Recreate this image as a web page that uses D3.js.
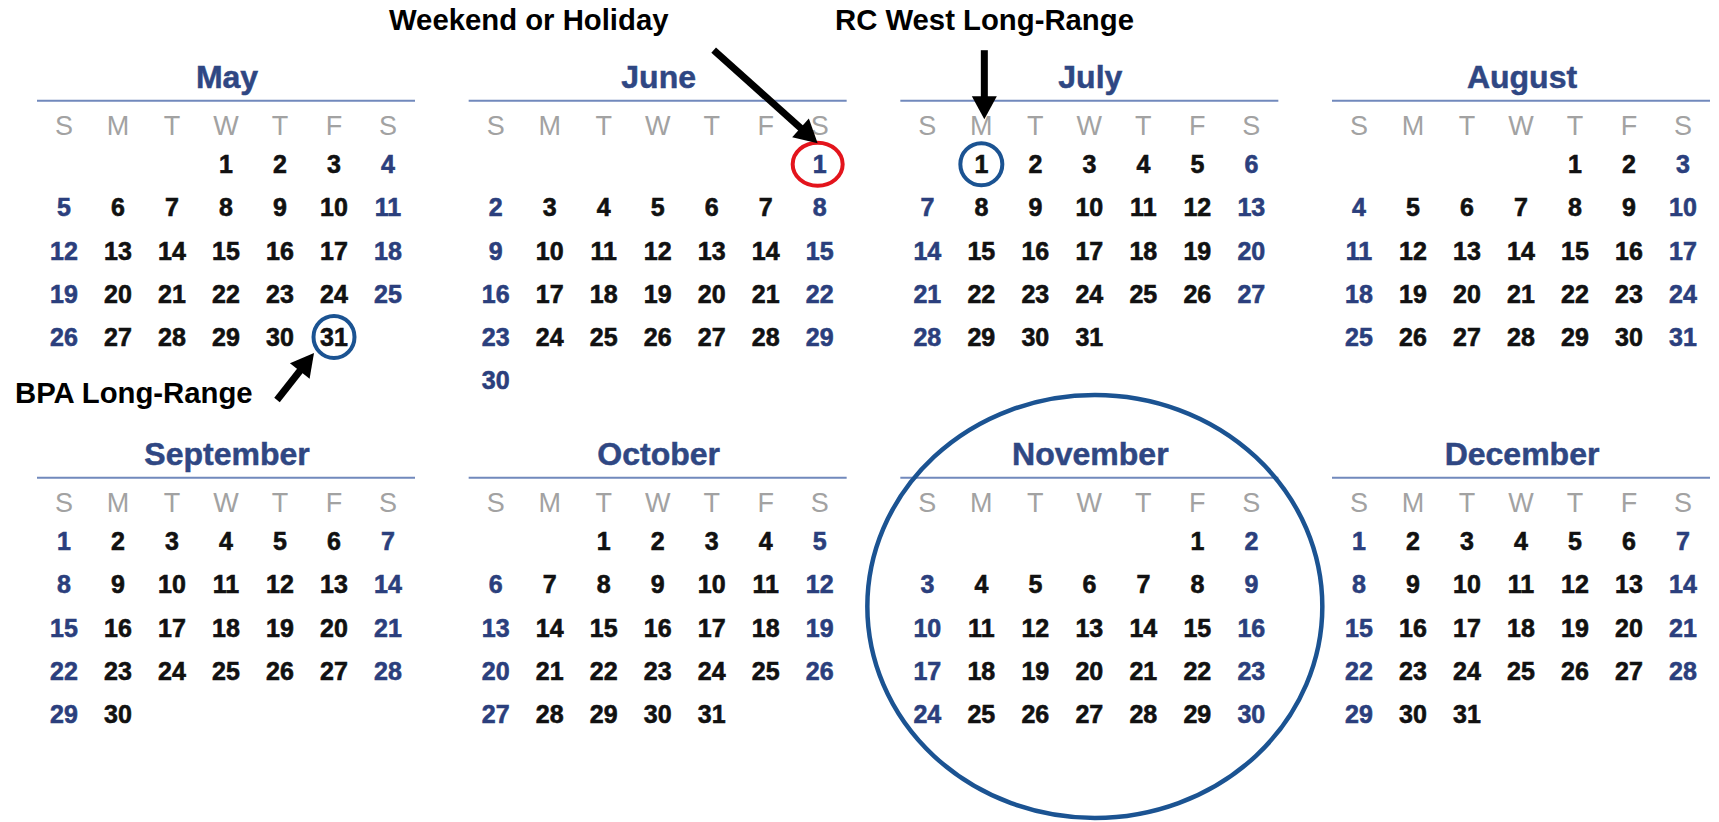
<!DOCTYPE html>
<html>
<head>
<meta charset="utf-8">
<script src="https://cdn.jsdelivr.net/npm/d3@7"></script>
<style>
  body { margin: 0; background: #fff; }
  svg { display: block; font-family: "Liberation Sans", Arial, sans-serif; }
</style>
</head>
<body>
<svg id="cal"></svg>
<script>
// calendar data (2019, May - December)
const months = ["May", "June", "July", "August", "September", "October", "November", "December"]
const startDays = [3, 6, 1, 4, 0, 2, 5, 0]   // weekday of the 1st, 0 = Sunday
const dayCounts = [31, 30, 31, 31, 30, 31, 30, 31]
const weekdays = ["S", "M", "T", "W", "T", "F", "S"]

// annotated dates
const noteLabels = ["Weekend or Holiday", "RC West Long-Range", "BPA Long-Range"]
const noteMonths = ["June", "July", "May"]
const noteDays = [1, 1, 31]
const circledMonth = "November"

const width = 1719, height = 822
const svg = d3.select("#cal").attr("width", width).attr("height", height)

// layout scales
const panelX = d3.scaleLinear().domain([0, 3]).range([37, 1332])
const panelY = d3.scaleLinear().domain([0, 1]).range([100.7, 477.7])
const panelW = 378
const col = d3.scaleBand().domain(d3.range(7)).range([0, panelW])
const row = d3.scaleLinear().domain([0, 5]).range([63.5, 63.5 + 5 * 43.2])

const titleColor = "#2f4783", weekendColor = "#2b3f7d", dayColor = "#111"

function cellPos(mi, day) {
    const idx = startDays[mi] + day - 1
    const c = idx % 7, r = Math.floor(idx / 7)
    const x0 = panelX(mi % 4), y0 = panelY(Math.floor(mi / 4))
    return { x: x0 + col(c) + col.bandwidth() / 2, y: y0 + row(r), c: c }
}

//Draw months
months.forEach((name, mi) => {
    const x0 = panelX(mi % 4), y0 = panelY(Math.floor(mi / 4))
    const g = svg.append("g")
    g.append("text")
        .attr("x", x0 + panelW / 2 + 1)
        .attr("y", y0 - 12.7)
        .attr("text-anchor", "middle")
        .attr("font-size", 32)
        .attr("font-weight", "bold")
        .attr("fill", titleColor)
        .attr("stroke", titleColor)
        .attr("stroke-width", 0.5)
        .text(name)
    g.append("line")
        .attr("x1", x0).attr("x2", x0 + panelW)
        .attr("y1", y0).attr("y2", y0)
        .attr("stroke", "#7189bc")
        .attr("stroke-width", 2)
    g.selectAll(".wd")
        .data(weekdays)
        .join("text")
        .attr("x", (d, i) => x0 + col(i) + col.bandwidth() / 2)
        .attr("y", y0 + 24.5 + 0.36 * 27)
        .attr("text-anchor", "middle")
        .attr("font-size", 27)
        .attr("fill", "#a2a2a2")
        .text(d => d)
    g.selectAll(".day")
        .data(d3.range(1, dayCounts[mi] + 1))
        .join("text")
        .each(function (d) {
            const p = cellPos(mi, d)
            const c = (p.c === 0 || p.c === 6) ? weekendColor : dayColor
            d3.select(this)
                .attr("x", p.x)
                .attr("y", p.y + 0.36 * 25)
                .attr("fill", c)
                .attr("stroke", c)
        })
        .attr("stroke-width", 0.6)
        .attr("text-anchor", "middle")
        .attr("font-size", 25)
        .attr("font-weight", "bold")
        .text(d => d)
})

//Big circle round a month
const ci = months.indexOf(circledMonth)
svg.append("ellipse")
    .attr("cx", panelX(ci % 4) + 194.5)
    .attr("cy", panelY(Math.floor(ci / 4)) + 128.8)
    .attr("rx", 227.5)
    .attr("ry", 211.5)
    .attr("fill", "none")
    .attr("stroke", "#1b5392")
    .attr("stroke-width", 4.5)

//Annotations
const ringColors = ["#e3141c", "#1b5392", "#1b5392"]
const ringR = [[25, 21.5], [21, 21], [20.5, 21]]
const textPos = [[389, 30], [835, 30], [15, 403]]
const tipOff = [[-2, -21], [3, -45], [-20, 16]]
const tailOff = [[-106, -114], [3, -114], [-57, 63]]

function arrow(x1, y1, x2, y2, headLen, headHalf, shaft) {
    const a = Math.atan2(y2 - y1, x2 - x1)
    const bx = x2 - headLen * Math.cos(a), by = y2 - headLen * Math.sin(a)
    svg.append("line")
        .attr("x1", x1).attr("y1", y1)
        .attr("x2", bx + Math.cos(a)).attr("y2", by + Math.sin(a))
        .attr("stroke", "#000")
        .attr("stroke-width", shaft)
    const nx = -Math.sin(a), ny = Math.cos(a)
    svg.append("path")
        .attr("d", d3.line()([[x2, y2], [bx + nx * headHalf, by + ny * headHalf], [bx - nx * headHalf, by - ny * headHalf]]) + "Z")
        .attr("fill", "#000")
}

noteLabels.forEach((label, i) => {
    const p = cellPos(months.indexOf(noteMonths[i]), noteDays[i])
    svg.append("ellipse")
        .attr("cx", p.x + (i === 0 ? -2 : 0))
        .attr("cy", p.y)
        .attr("rx", ringR[i][0])
        .attr("ry", ringR[i][1])
        .attr("fill", "none")
        .attr("stroke", ringColors[i])
        .attr("stroke-width", 4)
    svg.append("text")
        .attr("x", textPos[i][0])
        .attr("y", textPos[i][1])
        .attr("font-size", 29.3)
        .attr("font-weight", "bold")
        .attr("fill", "#000")
        .text(label)
    arrow(p.x + tailOff[i][0], p.y + tailOff[i][1], p.x + tipOff[i][0], p.y + tipOff[i][1], 23, 12.5, 7)
})
</script>
</body>
</html>
